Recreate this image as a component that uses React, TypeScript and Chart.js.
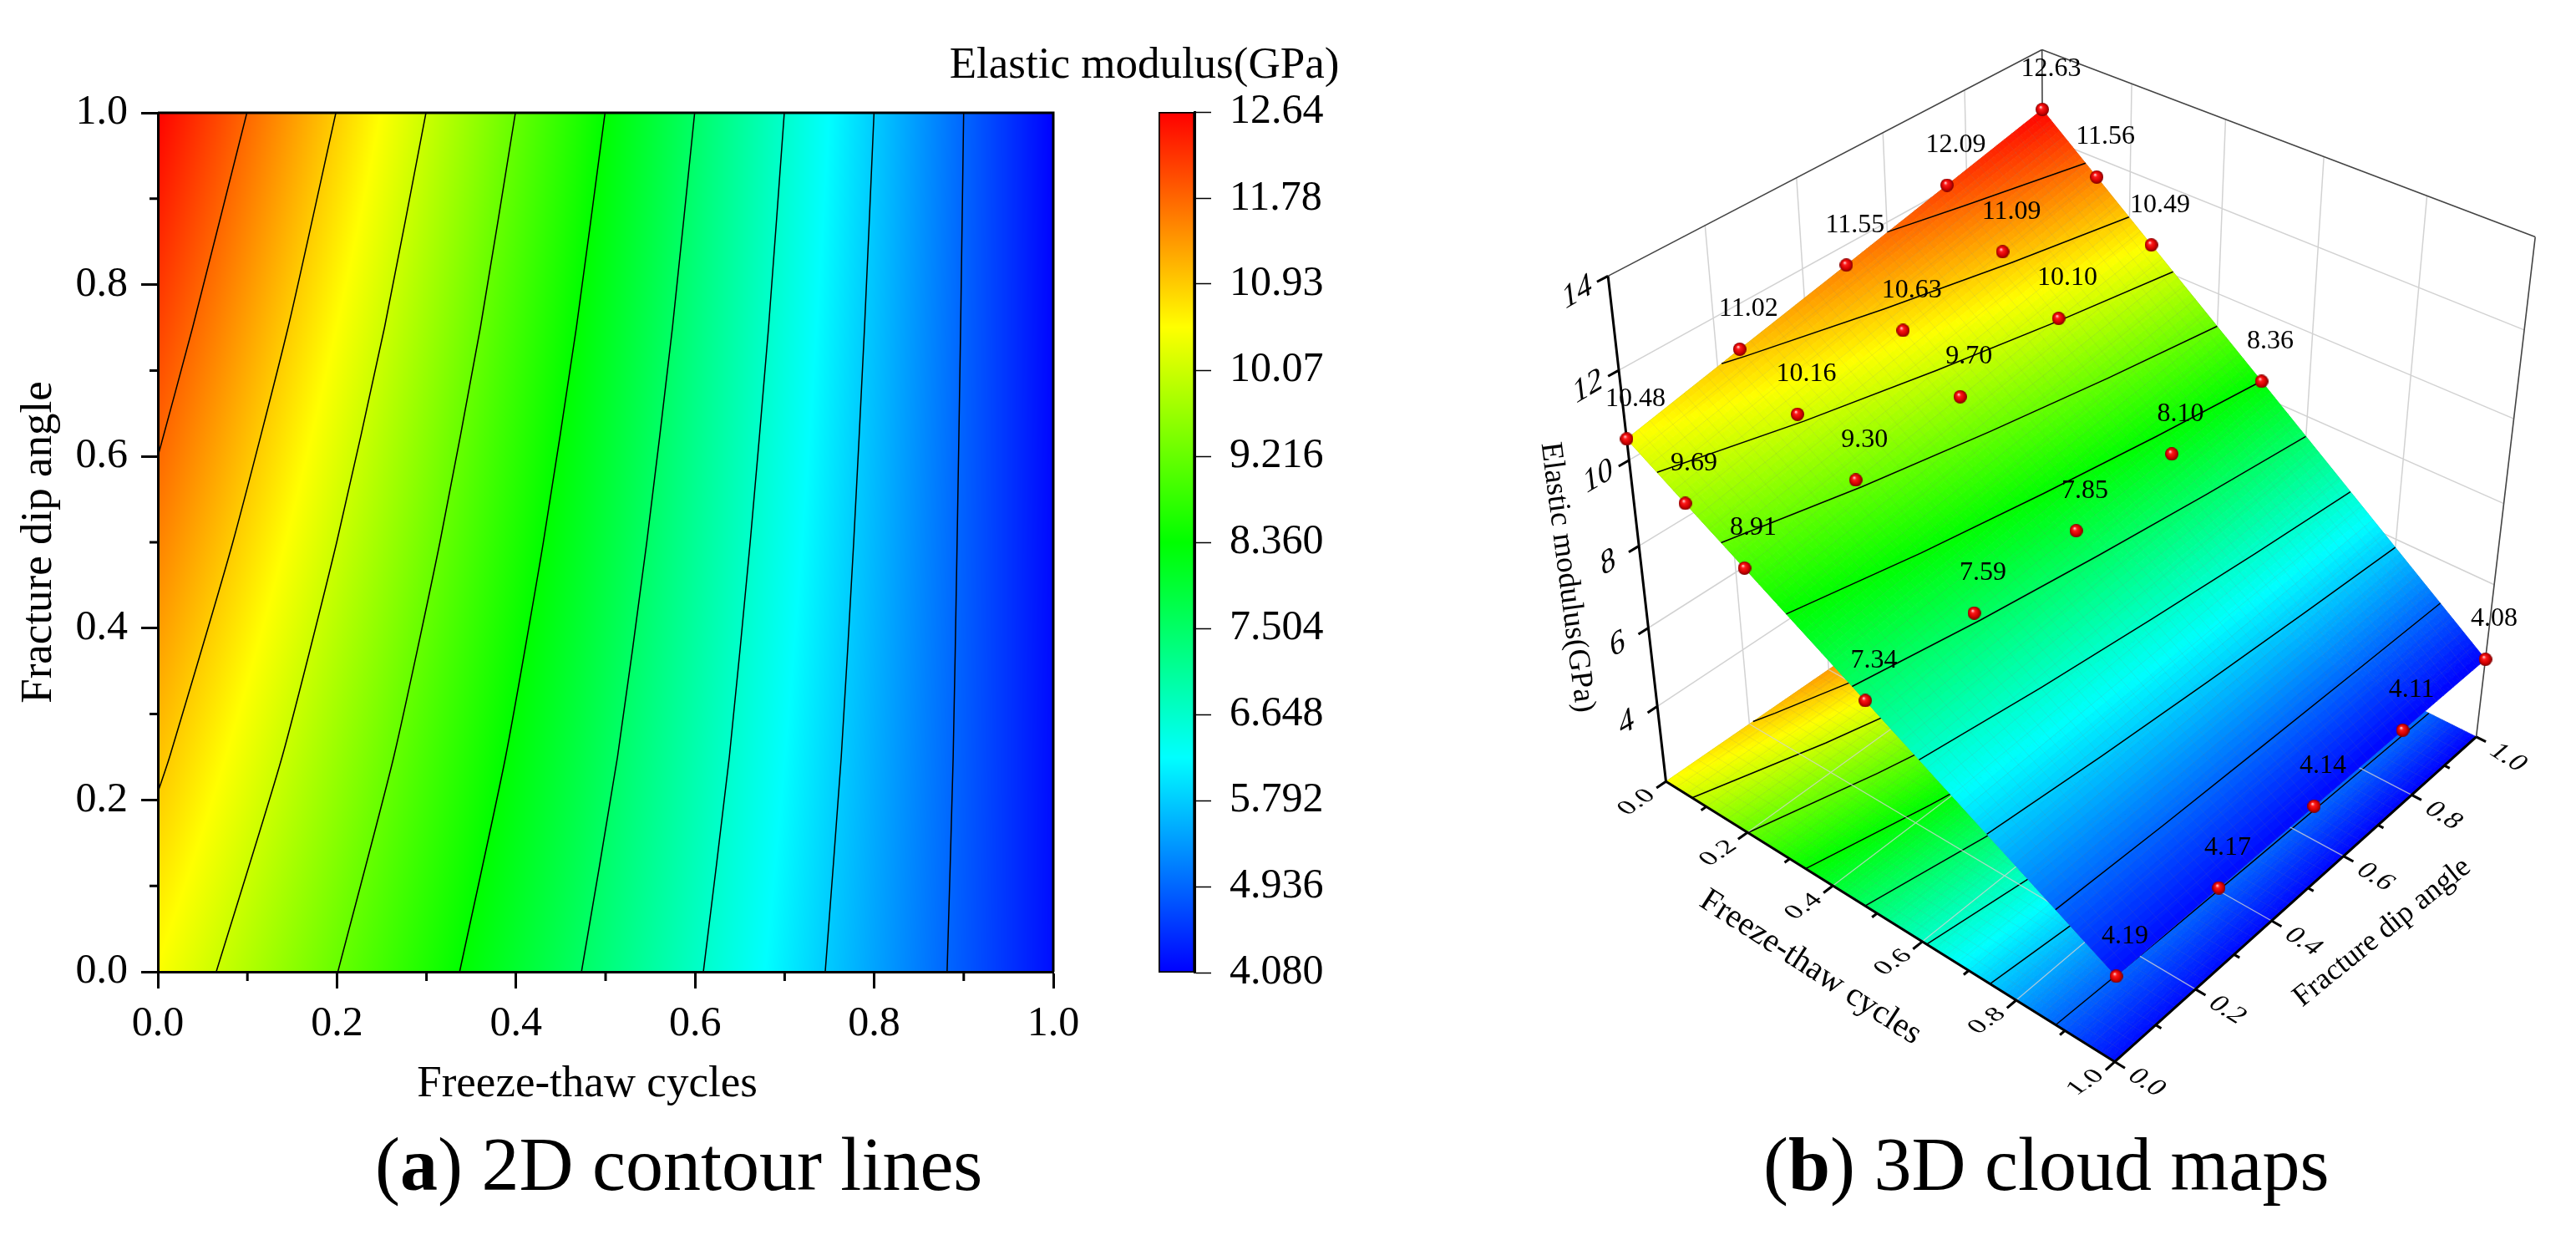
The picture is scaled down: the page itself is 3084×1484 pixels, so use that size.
import React, { useEffect, useRef } from "react";
import { Chart, registerables } from "chart.js";
Chart.register(...registerables);

const SERIF = '"Liberation Serif", serif';
const FT_POS = [0, 0.125, 0.25, 0.5, 1];
const DIP_POS = [0, 0.25, 0.5, 0.75, 1];
const E_FT0 = [10.48, 11.02, 11.55, 12.09, 12.63];
const E_FT1 = [9.69, 10.16, 10.63, 11.09, 11.56];
const E_FT2 = [8.91, 9.3, 9.7, 10.1, 10.49];
const E_FT3 = [7.34, 7.59, 7.85, 8.1, 8.36];
const E_FT4 = [4.19, 4.17, 4.14, 4.11, 4.08];
const E_GRID = [E_FT0, E_FT1, E_FT2, E_FT3, E_FT4];
const CB_TICKS = [12.64, 11.78, 10.93, 10.07, 9.216, 8.36, 7.504, 6.648, 5.792, 4.936, 4.08];
const CB_LABELS = ["12.64", "11.78", "10.93", "10.07", "9.216", "8.360", "7.504", "6.648", "5.792", "4.936", "4.080"];
const CONTOUR_LEVELS = [11.78, 10.93, 10.07, 9.216, 8.36, 7.504, 6.648, 5.792, 4.936];
const CONTOUR_X = [
  [0, 0.0388, 0.0994],
  [0, 0.0131, 0.0837, 0.1454, 0.1988],
  [0.0652, 0.1387, 0.1997, 0.2531, 0.2994],
  [0.201, 0.2634, 0.315, 0.3602, 0.3993],
  [0.337, 0.3883, 0.4305, 0.4674, 0.4994],
  [0.4731, 0.5133, 0.546, 0.5747, 0.5995],
  [0.6092, 0.6382, 0.6615, 0.682, 0.6996],
  [0.7453, 0.7632, 0.7771, 0.7892, 0.7998],
  [0.8814, 0.8882, 0.8926, 0.8965, 0.8999],
];
const CONTOUR_Y = [
  [0.6, 0.75, 1],
  [0.209, 0.25, 0.5, 0.75, 1],
  [0, 0.25, 0.5, 0.75, 1],
  [0, 0.25, 0.5, 0.75, 1],
  [0, 0.25, 0.5, 0.75, 1],
  [0, 0.25, 0.5, 0.75, 1],
  [0, 0.25, 0.5, 0.75, 1],
  [0, 0.25, 0.5, 0.75, 1],
  [0, 0.25, 0.5, 0.75, 1],
];
const COLOR_STOPS: [number, number[]][] = [
  [0, [0, 0, 255]],
  [0.25, [0, 255, 255]],
  [0.5, [0, 255, 0]],
  [0.75, [255, 255, 0]],
  [1, [255, 0, 0]],
];
const E_MIN = 4.08;
const E_MAX = 12.64;
const Z_FLOOR = 2;
const Z_TOP = 14;
const Z_TICKS = [4, 6, 8, 10, 12, 14];
const AXIS_TICKS = [0, 0.2, 0.4, 0.6, 0.8, 1];
const AXIS_MINOR = [0.1, 0.3, 0.5, 0.7, 0.9];

// perspective camera of the 3D view, fitted to the reference
const CAM = [262.29445, 783.93702, -314.76446, 1988.1207, 197.24724, -232.81547, -654.63982, 938.85062, -0.11161215, 0.13258543, -0.12744522];

function project(x: number, y: number, z: number) {
  const w = (z - Z_FLOOR) / (Z_TOP - Z_FLOOR);
  const d = CAM[8] * x + CAM[9] * y + CAM[10] * w + 1;
  return { x: (CAM[0] * x + CAM[1] * y + CAM[2] * w + CAM[3]) / d, y: (CAM[4] * x + CAM[5] * y + CAM[6] * w + CAM[7]) / d };
}

function rainbow(e: number) {
  const t = Math.min(1, Math.max(0, (e - E_MIN) / (E_MAX - E_MIN)));
  for (let i = 1; i < COLOR_STOPS.length; i++) {
    if (t <= COLOR_STOPS[i][0]) {
      const [t0, c0] = COLOR_STOPS[i - 1];
      const [t1, c1] = COLOR_STOPS[i];
      const f = (t - t0) / (t1 - t0);
      return [c0[0] + (c1[0] - c0[0]) * f, c0[1] + (c1[1] - c0[1]) * f, c0[2] + (c1[2] - c0[2]) * f];
    }
  }
  return COLOR_STOPS[4][1];
}

function lookup(pos: number[], v: number) {
  let i = 0;
  while (i < pos.length - 2 && v > pos[i + 1]) i++;
  return [i, (v - pos[i]) / (pos[i + 1] - pos[i])];
}

function surfaceE(x: number, y: number) {
  const [i, fx] = lookup(FT_POS, x);
  const [j, fy] = lookup(DIP_POS, y);
  const a = E_GRID[i][j] + (E_GRID[i][j + 1] - E_GRID[i][j]) * fy;
  const b = E_GRID[i + 1][j] + (E_GRID[i + 1][j + 1] - E_GRID[i + 1][j]) * fy;
  return a + (b - a) * fx;
}

const fieldPlugin = {
  id: "field",
  beforeDraw(chart: any) {
    const { left, top, right, bottom } = chart.chartArea;
    const w = Math.ceil(right - left);
    const h = Math.ceil(bottom - top);
    const off = document.createElement("canvas");
    off.width = w;
    off.height = h;
    const octx = off.getContext("2d")!;
    const img = octx.createImageData(w, h);
    const sx = chart.scales.x;
    const sy = chart.scales.y;
    for (let py = 0; py < h; py++) {
      const yv = sy.getValueForPixel(top + py + 0.5);
      for (let px = 0; px < w; px++) {
        const xv = sx.getValueForPixel(left + px + 0.5);
        const c = rainbow(surfaceE(Math.min(1, Math.max(0, xv)), Math.min(1, Math.max(0, yv))));
        const k = (py * w + px) * 4;
        img.data[k] = c[0];
        img.data[k + 1] = c[1];
        img.data[k + 2] = c[2];
        img.data[k + 3] = 255;
      }
    }
    octx.putImageData(img, 0, 0);
    chart.ctx.drawImage(off, left, top);
  },
  afterDraw(chart: any) {
    const { ctx, chartArea: a, scales } = chart;
    ctx.save();
    ctx.strokeStyle = "#000";
    ctx.lineWidth = 3;
    ctx.beginPath();
    ctx.moveTo(a.left, a.top);
    ctx.lineTo(a.right + 1.5, a.top);
    ctx.moveTo(a.right, a.top);
    ctx.lineTo(a.right, a.bottom);
    ctx.stroke();
    ctx.beginPath();
    for (const v of AXIS_MINOR) {
      const px = scales.x.getPixelForValue(v);
      ctx.moveTo(px, a.bottom);
      ctx.lineTo(px, a.bottom + 11);
      const py = scales.y.getPixelForValue(v);
      ctx.moveTo(a.left, py);
      ctx.lineTo(a.left - 10, py);
    }
    ctx.stroke();
    ctx.fillStyle = "#000";
    ctx.font = `53px ${SERIF}`;
    ctx.textAlign = "center";
    ctx.textBaseline = "alphabetic";
    ctx.fillText("Freeze-thaw cycles", 703, 1312);
    ctx.restore();
  },
};

const colorbarTitlePlugin = {
  id: "colorbarTitle",
  afterDraw(chart: any) {
    const { ctx } = chart;
    ctx.save();
    ctx.fillStyle = "#000";
    ctx.font = `53px ${SERIF}`;
    ctx.textAlign = "center";
    ctx.textBaseline = "middle";
    ctx.fillText("Elastic modulus(GPa)", 240, 39);
    ctx.restore();
  },
};

function paintPatch(chart: any, zOf: (x: number, y: number) => number, withMesh: boolean) {
  const { ctx, scales } = chart;
  const N = 100;
  const P = (x: number, y: number, z: number) => {
    const p = project(x, y, z);
    return [scales.x.getPixelForValue(p.x), scales.y.getPixelForValue(p.y)];
  };
  ctx.save();
  ctx.lineWidth = 1;
  for (let i = 0; i < N; i++) {
    for (let j = 0; j < N; j++) {
      const x0 = i / N, x1 = (i + 1) / N, y0 = j / N, y1 = (j + 1) / N;
      const c = rainbow(surfaceE((x0 + x1) / 2, (y0 + y1) / 2));
      const col = `rgb(${c[0] | 0},${c[1] | 0},${c[2] | 0})`;
      ctx.fillStyle = col;
      ctx.strokeStyle = col;
      ctx.beginPath();
      const pts = [P(x0, y0, zOf(x0, y0)), P(x1, y0, zOf(x1, y0)), P(x1, y1, zOf(x1, y1)), P(x0, y1, zOf(x0, y1))];
      ctx.moveTo(pts[0][0], pts[0][1]);
      for (let k = 1; k < 4; k++) ctx.lineTo(pts[k][0], pts[k][1]);
      ctx.closePath();
      ctx.fill();
      ctx.stroke();
    }
  }
  if (withMesh) {
    const M = 40;
    ctx.strokeStyle = "rgba(120,120,120,0.13)";
    ctx.beginPath();
    for (let i = 0; i <= M; i++) {
      for (let k = 0; k < M; k++) {
        const a = i / M, b0 = k / M, b1 = (k + 1) / M;
        let p = P(a, b0, zOf(a, b0));
        ctx.moveTo(p[0], p[1]);
        p = P(a, b1, zOf(a, b1));
        ctx.lineTo(p[0], p[1]);
        p = P(b0, a, zOf(b0, a));
        ctx.moveTo(p[0], p[1]);
        p = P(b1, a, zOf(b1, a));
        ctx.lineTo(p[0], p[1]);
      }
    }
    ctx.stroke();
  }
  ctx.restore();
}

function skewText(ctx: any, text: string, cx: number, cy: number, ex: number[], fy: number[], font: string) {
  ctx.save();
  ctx.transform(ex[0], ex[1], fy[0], fy[1], cx, cy);
  ctx.font = font;
  ctx.fillStyle = "#000";
  ctx.textAlign = "center";
  ctx.textBaseline = "middle";
  ctx.fillText(text, 0, 0);
  ctx.restore();
}

const threeDPlugin = {
  id: "threeD",
  beforeDatasetDraw(chart: any, args: any) {
    const name = chart.data.datasets[args.index].label;
    if (name === "floor map") paintPatch(chart, () => Z_FLOOR, true);
    if (name === "surface") paintPatch(chart, surfaceE, true);
  },
  afterDatasetsDraw(chart: any) {
    const { ctx, scales } = chart;
    const X = (p: any) => scales.x.getPixelForValue(p.x);
    const Y = (p: any) => scales.y.getPixelForValue(p.y);
    ctx.save();
    ctx.fillStyle = "#000";
    ctx.font = `32px ${SERIF}`;
    ctx.textAlign = "center";
    ctx.textBaseline = "middle";
    FT_POS.forEach((x, i) =>
      DIP_POS.forEach((y, j) => {
        const p = project(x, y, E_GRID[i][j]);
        ctx.fillText(E_GRID[i][j].toFixed(2), X(p) + 10.5, Y(p) - 48);
      })
    );
    ctx.restore();
    const tickFont = `34px ${SERIF}`;
    AXIS_TICKS.forEach((v) => {
      const a = project(v, 0, Z_FLOOR);
      skewText(ctx, v.toFixed(1), X(a) - 35, Y(a) + 25, [0.82, -0.55], [0.7, 0.5], tickFont);
      const b = project(1, v, Z_FLOOR);
      skewText(ctx, v.toFixed(1), X(b) + 38, Y(b) + 25, [0.85, 0.53], [-0.72, 0.62], tickFont);
    });
    Z_TICKS.forEach((z) => {
      const a = project(0, 0, z);
      skewText(ctx, String(z), X(a) - 37, Y(a) + 20, [0.85, -0.5], [0.12, 1], `40px ${SERIF}`);
    });
    const rot = (text: string, cx: number, cy: number, deg: number, size: number) => {
      ctx.save();
      ctx.translate(cx, cy);
      ctx.rotate((deg * Math.PI) / 180);
      ctx.font = `${size}px ${SERIF}`;
      ctx.fillStyle = "#000";
      ctx.textAlign = "center";
      ctx.textBaseline = "middle";
      ctx.fillText(text, 0, 0);
      ctx.restore();
    };
    const ox = scales.x.min;
    rot("Freeze-thaw cycles", 2167.5 - ox, 1158, 33, 40);
    rot("Fracture dip angle", 2852 - ox, 1116, -39, 36);
    rot("Elastic modulus(GPa)", 1876 - ox, 691, 82.6, 37);
  },
};

function seg(list: number[][][]) {
  const out: any[] = [];
  for (const [a, b] of list) {
    out.push(project(a[0], a[1], a[2]), project(b[0], b[1], b[2]), { x: NaN, y: NaN });
  }
  return out;
}

function sphere() {
  const c = document.createElement("canvas");
  c.width = 16;
  c.height = 16;
  const g = c.getContext("2d")!;
  const r = g.createRadialGradient(6, 5, 0.5, 8, 8, 8);
  r.addColorStop(0, "#ffc8c8");
  r.addColorStop(0.25, "#ff1a1a");
  r.addColorStop(0.7, "#d00000");
  r.addColorStop(1, "#7a0000");
  g.fillStyle = r;
  g.beginPath();
  g.arc(8, 8, 8, 0, Math.PI * 2);
  g.fill();
  return c;
}

function line(label: string, data: any[], color: string, width: number, order: number) {
  return { type: "scatter", label, data, showLine: true, borderColor: color, borderWidth: width, pointRadius: 0, order, spanGaps: false, clip: false };
}

function build3D() {
  const walls: number[][][] = [];
  const floorGrid: number[][][] = [];
  [0.2, 0.4, 0.6, 0.8].forEach((v) => {
    walls.push([[0, v, Z_FLOOR], [0, v, Z_TOP]], [[v, 1, Z_FLOOR], [v, 1, Z_TOP]]);
    floorGrid.push([[v, 0, Z_FLOOR], [v, 1, Z_FLOOR]], [[0, v, Z_FLOOR], [1, v, Z_FLOOR]]);
  });
  Z_TICKS.slice(0, 5).forEach((z) => {
    walls.push([[0, 0, z], [0, 1, z]], [[0, 1, z], [1, 1, z]]);
  });
  const edges = [
    [[0, 0, Z_TOP], [0, 1, Z_TOP]],
    [[0, 1, Z_TOP], [1, 1, Z_TOP]],
    [[1, 1, Z_TOP], [1, 1, Z_FLOOR]],
    [[0, 1, Z_TOP], [0, 1, Z_FLOOR]],
  ];
  const axes: number[][][] = [
    [[0, 0, Z_FLOOR], [0, 0, Z_TOP]],
    [[0, 0, Z_FLOOR], [1, 0, Z_FLOOR]],
    [[1, 0, Z_FLOOR], [1, 1, Z_FLOOR]],
  ];
  AXIS_TICKS.forEach((v) => {
    axes.push([[v, 0, Z_FLOOR], [v, -0.022, Z_FLOOR]], [[1, v, Z_FLOOR], [1.02, v, Z_FLOOR]]);
  });
  AXIS_MINOR.forEach((v) => {
    axes.push([[v, 0, Z_FLOOR], [v, -0.012, Z_FLOOR]], [[1, v, Z_FLOOR], [1.011, v, Z_FLOOR]]);
  });
  Z_TICKS.forEach((z) => axes.push([[0, 0, z], [0, -0.022, z]]));
  const floorLines = CONTOUR_LEVELS.map((_, k) =>
    line("floor contour", CONTOUR_X[k].map((x, i) => project(x, CONTOUR_Y[k][i], Z_FLOOR)), "#000", 1.5, 80)
  );
  const surfLines = CONTOUR_LEVELS.map((L, k) =>
    line("surface contour", CONTOUR_X[k].map((x, i) => project(x, CONTOUR_Y[k][i], L)), "#000", 1.5, 50)
  );
  const points: any[] = [];
  FT_POS.forEach((x, i) => DIP_POS.forEach((y, j) => points.push(project(x, y, E_GRID[i][j]))));
  return [
    line("walls", seg(walls), "#d2d2d2", 1.5, 100),
    line("edges", seg(edges), "#444", 1.6, 95),
    line("floor map", [], "#000", 0, 90),
    ...floorLines,
    line("floor grid", seg(floorGrid), "rgba(215,215,215,0.75)", 1.3, 70),
    line("surface", [], "#000", 0, 60),
    ...surfLines,
    line("axes", seg(axes), "#000", 3, 40),
    { type: "scatter", label: "points", data: points, pointStyle: sphere(), pointRadius: 8, order: 30, clip: false },
  ];
}

const base = { responsive: false, animation: false, devicePixelRatio: 1, events: [] as string[] };

export default function App() {
  const a = useRef<HTMLCanvasElement>(null);
  const b = useRef<HTMLCanvasElement>(null);
  const c = useRef<HTMLCanvasElement>(null);
  useEffect(() => {
    const charts: any[] = [];
    const tickOpts = {
      grid: { drawOnChartArea: false, drawTicks: true, tickLength: 20, tickWidth: 3, tickColor: "#000" },
      border: { color: "#000", width: 3 },
    };
    charts.push(
      new Chart(a.current!, {
        type: "scatter",
        data: {
          datasets: CONTOUR_LEVELS.map((L, k) => ({
            label: String(L),
            data: CONTOUR_X[k].map((x, i) => ({ x, y: CONTOUR_Y[k][i] })),
            showLine: true,
            borderColor: "#000",
            borderWidth: 1.5,
            pointRadius: 0,
            tension: 0.2,
          })),
        },
        options: {
          ...base,
          layout: { padding: { top: 135, right: 59 } },
          plugins: { legend: { display: false }, tooltip: { enabled: false } },
          scales: {
            x: {
              type: "linear", min: 0, max: 1, ...tickOpts,
              ticks: { stepSize: 0.2, maxRotation: 0, color: "#000", padding: 13, font: { family: SERIF, size: 50 }, callback: (v: any) => Number(v).toFixed(1) },
              afterFit: (s: any) => { s.height = 167; },
            },
            y: {
              type: "linear", min: 0, max: 1, ...tickOpts,
              title: { display: true, text: "Fracture dip angle", color: "#000", font: { family: SERIF, size: 53 }, padding: { top: 15, bottom: 0 } },
              ticks: { stepSize: 0.2, color: "#000", padding: 16, font: { family: SERIF, size: 50 }, callback: (v: any) => Number(v).toFixed(1) },
              afterFit: (s: any) => { s.width = 189; },
            },
          },
        } as any,
        plugins: [fieldPlugin],
      } as any)
    );
    charts.push(
      new Chart(c.current!, {
        type: "bar",
        data: {
          labels: ["Elastic modulus"],
          datasets: [
            {
              data: [[E_MIN, E_MAX]],
              barPercentage: 1,
              categoryPercentage: 1,
              borderColor: "#000",
              borderWidth: 2,
              borderSkipped: false,
              backgroundColor: (ctx: any) => {
                const { chart } = ctx;
                if (!chart.chartArea) return "#000";
                const g = chart.ctx.createLinearGradient(0, chart.scales.y.getPixelForValue(E_MIN), 0, chart.scales.y.getPixelForValue(E_MAX));
                COLOR_STOPS.forEach(([t, col]) => g.addColorStop(t, `rgb(${col[0]},${col[1]},${col[2]})`));
                return g;
              },
            },
          ],
        },
        options: {
          ...base,
          layout: { padding: { left: 257, top: 94, bottom: 56 } },
          plugins: { legend: { display: false }, tooltip: { enabled: false } },
          scales: {
            x: { display: false },
            y: {
              type: "linear", position: "right", min: E_MIN, max: E_MAX,
              grid: { drawOnChartArea: false, drawTicks: true, tickLength: 20, tickWidth: 1.5, tickColor: "#000" },
              border: { color: "#000", width: 3 },
              afterBuildTicks: (s: any) => { s.ticks = CB_TICKS.map((value) => ({ value })); },
              ticks: { autoSkip: false, color: "#000", padding: 22, font: { family: SERIF, size: 50 }, callback: (v: any, i: number) => CB_LABELS[i] },
              afterFit: (s: any) => { s.width = 180; },
            },
          },
        } as any,
        plugins: [colorbarTitlePlugin],
      } as any)
    );
    charts.push(
      new Chart(b.current!, {
        type: "scatter",
        data: { datasets: build3D() as any },
        options: {
          ...base,
          layout: { padding: 0 },
          plugins: { legend: { display: false }, tooltip: { enabled: false } },
          scales: {
            x: { type: "linear", display: false, min: 1800, max: 3084 },
            y: { type: "linear", display: false, reverse: true, min: 0, max: 1340 },
          },
        } as any,
        plugins: [threeDPlugin],
      } as any)
    );
    return () => charts.forEach((ch) => ch.destroy());
  }, []);
  const cap: any = { position: "absolute", top: 1344, font: `90px/100px ${SERIF}`, whiteSpace: "pre", color: "#000" };
  const abs: any = { position: "absolute" };
  return (
    <div style={{ position: "absolute", left: 0, top: 0, width: 3084, height: 1484, background: "#fff", overflow: "hidden" }}>
      <canvas ref={a} width={1320} height={1330} style={{ ...abs, left: 0, top: 0 }} />
      <canvas ref={c} width={480} height={1180} style={{ ...abs, left: 1130, top: 40 }} />
      <canvas ref={b} width={1284} height={1340} style={{ ...abs, left: 1800, top: 0 }} />
      <div style={{ ...cap, left: 449 }}>(<b>a</b>) 2D contour lines</div>
      <div style={{ ...cap, left: 2111 }}>(<b>b</b>) 3D cloud maps</div>
    </div>
  );
}
